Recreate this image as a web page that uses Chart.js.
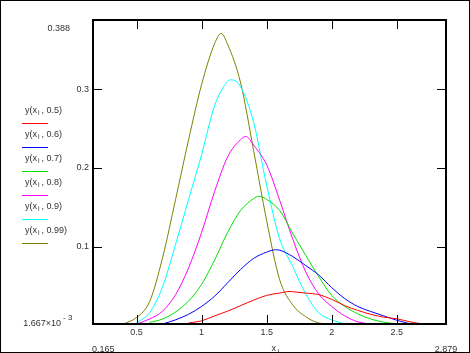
<!DOCTYPE html>
<html>
<head>
<meta charset="utf-8">
<script src="https://cdn.jsdelivr.net/npm/chart.js@4"></script>
<style>
  html, body { margin: 0; padding: 0; background: #fff; }
  #wrap { position: relative; width: 470px; height: 353px; }
</style>
</head>
<body>
<div id="wrap"><canvas id="plot"></canvas></div>
<script>
// ---- data ----
const xs = [0.4, 0.5, 0.6, 0.7, 0.8, 0.9, 1.0, 1.1, 1.2, 1.3, 1.4, 1.5, 1.6,
            1.7, 1.8, 1.9, 2.0, 2.1, 2.2, 2.3, 2.4, 2.5, 2.6, 2.7, 2.8];

const y050 = [null, null, null, null, null, 0.003, 0.0057, 0.012, 0.018, 0.025, 0.032, 0.038, 0.041,
              0.0427, 0.041, 0.039, 0.033, 0.025, 0.019, 0.014, 0.0104, 0.0083, 0.0045, 0.0017, null];
const y060 = [null, null, null, 0.0017, 0.007, 0.014, 0.024, 0.037, 0.054, 0.071, 0.085, 0.093, 0.0955,
              0.0875, 0.076, 0.064, 0.048, 0.034, 0.024, 0.0176, 0.012, 0.0065, 0.002, null, null];
const y070 = [null, null, 0.0036, 0.008, 0.017, 0.031, 0.052, 0.083, 0.118, 0.146, 0.161, 0.160, 0.146,
              0.117, 0.089, 0.062, 0.038, 0.024, 0.0146, 0.008, 0.004, 0.0017, null, null, null];
const y080 = [null, 0.0017, 0.008, 0.018, 0.039, 0.073, 0.118, 0.170, 0.214, 0.236, 0.229, 0.204, 0.159,
              0.110, 0.068, 0.040, 0.024, 0.012, 0.0045, 0.0017, null, null, null, null, null];
const y090 = [null, 0.003, 0.016, 0.049, 0.103, 0.160, 0.217, 0.279, 0.310, 0.303, 0.258, 0.178, 0.110,
              0.075, 0.040, 0.016, 0.007, 0.0017, null, null, null, null, null, null, null];
const y099 = [0.0017, 0.010, 0.030, 0.086, 0.160, 0.236, 0.306, 0.358, 0.357, 0.308, 0.222, 0.133, 0.058,
              0.026, 0.011, 0.003, 0.0017, null, null, null, null, null, null, null, null];

// top of each hump
const peakX = [1.68, 1.57, 1.44, 1.34, 1.23, 1.15];
const peakY = [0.043, 0.096, 0.164, 0.240, 0.312, 0.371];

const params = ['0.5', '0.6', '0.7', '0.8', '0.9', '0.99'];
const colors = ['#ff0000', '#0000ff', '#00e000', '#ff00ff', '#00ffff', '#808000'];
const series = [y050, y060, y070, y080, y090, y099];

const xTicks = [0.5, 1, 1.5, 2, 2.5];
const yTicks = [0.1, 0.2, 0.3];
const xMin = 0.165, xMax = 2.879;
const yMin = 1.667e-3, yMax = 0.388;

const FONT = "9px 'Liberation Sans', Arial, sans-serif";
const SMALL = "7px 'Liberation Sans', Arial, sans-serif";
const TXT = '#333';

// pair up x and y, drop the points outside each curve, slot the peak in
function points(vals, k) {
  const out = [];
  vals.forEach((v, i) => { if (v !== null) out.push({ x: xs[i], y: v }); });
  out.push({ x: peakX[k], y: peakY[k] });
  out.sort((a, b) => a.x - b.x);
  return out;
}

// draws the Mathcad-like frame, ticks, labels and legend
const frame = {
  id: 'frame',
  afterDraw(chart) {
    const ctx = chart.ctx;
    const a = chart.chartArea;
    const sx = chart.scales.x, sy = chart.scales.y;
    ctx.save();

    // outer border
    ctx.strokeStyle = '#000';
    ctx.lineWidth = 1;
    ctx.strokeRect(0.5, 0.5, chart.width - 1, chart.height - 1);

    // plot frame
    ctx.lineWidth = 2;
    ctx.strokeRect(a.left, a.top, a.right - a.left, a.bottom - a.top);

    // inward ticks
    ctx.lineWidth = 1;
    ctx.beginPath();
    xTicks.forEach(v => {
      const p = Math.round(sx.getPixelForValue(v)) + 0.5;
      ctx.moveTo(p, a.bottom); ctx.lineTo(p, a.bottom - 9);
      ctx.moveTo(p, a.top); ctx.lineTo(p, a.top + 9);
    });
    yTicks.forEach(v => {
      const p = Math.round(sy.getPixelForValue(v)) + 0.5;
      ctx.moveTo(a.left, p); ctx.lineTo(a.left + 9, p);
      ctx.moveTo(a.right, p); ctx.lineTo(a.right - 9, p);
    });
    ctx.stroke();

    ctx.font = FONT;
    ctx.fillStyle = TXT;
    ctx.textBaseline = 'middle';

    // x tick labels
    ctx.textAlign = 'center';
    xTicks.forEach(v => ctx.fillText(String(v), sx.getPixelForValue(v), a.bottom + 9));
    // x range limits
    ctx.textAlign = 'left';
    ctx.fillText(String(xMin), a.left - 1, a.bottom + 26);
    ctx.textAlign = 'center';
    ctx.fillText(String(xMax), a.right, a.bottom + 26);
    // x axis name
    ctx.textAlign = 'left';
    const xm = (a.left + a.right) / 2 + 2;
    ctx.fillText('x', xm, a.bottom + 25);
    ctx.font = SMALL;
    ctx.fillText('i', xm + 6, a.bottom + 28);
    ctx.font = FONT;

    // y tick labels
    ctx.textAlign = 'right';
    yTicks.forEach(v => ctx.fillText(String(v), a.left - 4, sy.getPixelForValue(v)));
    // y range limits
    ctx.fillText(String(yMax), 70, sy.getPixelForValue(yMax) + 9);
    ctx.fillText('1.667\u00d710', 61, a.bottom);
    ctx.textAlign = 'left';
    ctx.font = "8px 'Liberation Sans', Arial, sans-serif";
    ctx.fillText('- 3', 63, a.bottom - 6);
    ctx.font = FONT;

    // legend: expression with its line underneath
    params.forEach((p, k) => {
      const ly = 123.5 + 24 * k;
      const ty = ly - 13;
      let x = 25;
      ctx.fillStyle = TXT;
      ctx.textAlign = 'left';
      ctx.fillText('y(x', x, ty);
      x += ctx.measureText('y(x').width + 1;
      ctx.font = SMALL;
      ctx.fillText('i', x, ty + 3);
      x += ctx.measureText('i').width + 2;
      ctx.font = FONT;
      ctx.fillText(', ' + p + ')', x, ty);

      ctx.strokeStyle = colors[k];
      ctx.beginPath();
      ctx.moveTo(22, ly); ctx.lineTo(48, ly);
      ctx.stroke();
    });

    ctx.restore();
  }
};

new Chart(document.getElementById('plot'), {
  type: 'line',
  data: {
    datasets: series.map((vals, k) => ({
      label: 'y(x_i, ' + params[k] + ')',
      data: points(vals, k),
      borderColor: colors[k],
      borderWidth: 1,
      pointRadius: 0,
      fill: false,
      cubicInterpolationMode: 'monotone'
    }))
  },
  options: {
    responsive: true,
    maintainAspectRatio: false,
    animation: false,
    events: [],
    layout: { padding: { left: 93, right: 24, top: 20, bottom: 29 } },
    scales: {
      x: { type: 'linear', min: xMin, max: xMax, display: false },
      y: { type: 'linear', min: yMin, max: yMax, display: false }
    },
    plugins: { legend: { display: false }, tooltip: { enabled: false } }
  },
  plugins: [frame]
});
</script>
</body>
</html>
